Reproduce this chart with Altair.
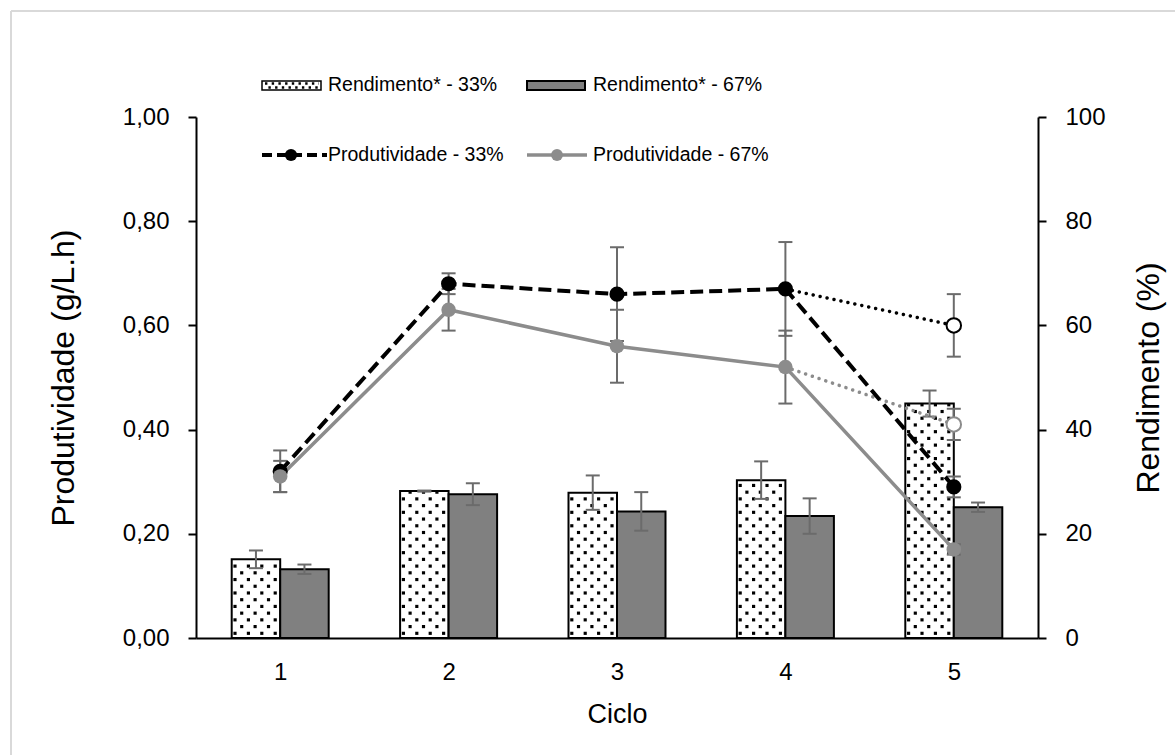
import altair as alt
import pandas as pd

# ---------------- data ----------------
ciclos = [1, 2, 3, 4, 5]

# Rendimento (%) por ciclo, com desvio padrão
rend_33 = [15.1, 28.2, 27.9, 30.3, 45.0]
rend_33_err = [1.7, 0.1, 3.3, 3.6, 2.5]
rend_67 = [13.2, 27.6, 24.3, 23.4, 25.1]
rend_67_err = [0.9, 2.1, 3.7, 3.4, 0.9]

# Produtividade (g/L.h) por ciclo, com desvio padrão
prod_33 = [0.32, 0.68, 0.66, 0.67, 0.29]
prod_33_err = [0.04, 0.02, 0.09, 0.09, 0.02]
prod_67 = [0.31, 0.63, 0.56, 0.52, 0.17]
prod_67_err = [0.03, 0.04, 0.07, 0.07, 0.01]

# Ciclo 5 alternativo (marcadores vazados, ligados ao ciclo 4 por pontilhado)
prod_33_c5b = 0.60
prod_33_c5b_err = 0.06
prod_67_c5b = 0.41
prod_67_c5b_err = 0.03

legend_labels = ["Rendimento* - 33%", "Rendimento* - 67%",
                 "Produtividade - 33%", "Produtividade - 67%"]

# ---------------- styling ----------------
FONT = "Liberation Sans, Arial"
GRAY_BAR = "#808080"
GRAY_LINE = "#8c8c8c"
ERR = "#6b6b6b"
BAR_W = 0.288  # bar width in cycle units

X = alt.Scale(domain=[0.5, 5.5], nice=False, zero=False)
YP = alt.Scale(domain=[0, 1], nice=False)
YR = alt.Scale(domain=[0, 100], nice=False)

# ---------------- tables ----------------
bars = pd.DataFrame({
    "ciclo": ciclos * 2,
    "grupo": ["33%"] * 5 + ["67%"] * 5,
    "rend": rend_33 + rend_67,
    "err": rend_33_err + rend_67_err,
})
bars["x0"] = bars["ciclo"] - BAR_W * (bars["grupo"] == "33%")
bars["x1"] = bars["x0"] + BAR_W
bars["xm"] = (bars["x0"] + bars["x1"]) / 2
bars["lo"] = bars["rend"] - bars["err"]
bars["hi"] = bars["rend"] + bars["err"]
bars["base"] = 0.0

prod = pd.DataFrame({
    "ciclo": ciclos * 2,
    "grupo": ["33%"] * 5 + ["67%"] * 5,
    "p": prod_33 + prod_67,
    "err": prod_33_err + prod_67_err,
})
prod_b = pd.DataFrame({
    "ciclo": [5, 5],
    "grupo": ["33%", "67%"],
    "p": [prod_33_c5b, prod_67_c5b],
    "err": [prod_33_c5b_err, prod_67_c5b_err],
})
errs_p = pd.concat([prod, prod_b], ignore_index=True)
errs_p["lo"] = errs_p["p"] - errs_p["err"]
errs_p["hi"] = errs_p["p"] + errs_p["err"]

dot33 = pd.DataFrame({"ciclo": [4, 5], "p": [prod_33[3], prod_33_c5b]})
dot67 = pd.DataFrame({"ciclo": [4, 5], "p": [prod_67[3], prod_67_c5b]})

# ---------------- axes (same object reused by every layer sharing a scale) ----
x_axis = alt.Axis(orient="bottom", values=ciclos, format="d", ticks=False,
                  tickSize=0, grid=False, domainColor="black", domainWidth=2,
                  labelFont=FONT, labelFontSize=24, labelColor="black",
                  labelPadding=22, title="Ciclo", titleFont=FONT,
                  titleFontSize=27, titleFontWeight="normal", titleColor="black",
                  titlePadding=17)

yp_axis = alt.Axis(orient="left", values=[0, 0.2, 0.4, 0.6, 0.8, 1.0],
                   labelExpr="replace(format(datum.value, '.2f'), '.', ',')",
                   grid=False, tickSize=8, tickWidth=2, tickColor="black",
                   domainColor="black", domainWidth=2, labelFont=FONT,
                   labelFontSize=24, labelColor="black", labelPadding=19,
                   title="Produtividade (g/L.h)", titleFont=FONT,
                   titleFontSize=32, titleFontWeight="normal", titleColor="black",
                   titlePadding=42)

yr_axis = alt.Axis(orient="right", values=[0, 20, 40, 60, 80, 100], format="d",
                   grid=False, tickSize=8, tickWidth=2, tickColor="black",
                   domainColor="black", domainWidth=2, labelFont=FONT,
                   labelFontSize=24, labelColor="black", labelPadding=19,
                   title="Rendimento (%)", titleFont=FONT, titleFontSize=32,
                   titleFontWeight="normal", titleColor="black", titleAngle=270,
                   titleBaseline="top", titlePadding=28)


def xq(field):
    return alt.X(f"{field}:Q", scale=X, axis=x_axis)


def yr(field):
    return alt.Y(f"{field}:Q", scale=YR, axis=yr_axis)


def yp(field):
    return alt.Y(f"{field}:Q", scale=YP, axis=yp_axis)


# ---------------- Rendimento (bars, right axis) ----------------
bar_rects = alt.Chart(bars).mark_rect(stroke="black", strokeWidth=2).encode(
    x=xq("x0"), x2="x1:Q",
    y=yr("rend"), y2="base:Q",
    fill=alt.Fill("grupo:N", scale=alt.Scale(domain=["33%", "67%"],
                                              range=["white", GRAY_BAR]),
                  legend=None),
)

# dotted fill of the 33% bars: staggered grid of small squares inside each bar
bar_dots = alt.Chart(bars).transform_filter(
    "datum.grupo == '33%'"
).transform_calculate(
    ri="sequence(0, floor((datum.rend - 1.1) / 1.29) + 1)"
).transform_flatten(["ri"]).transform_calculate(
    ci="sequence(0, 7)"
).transform_flatten(["ci"]).transform_filter(
    "(datum.ri + datum.ci) % 2 == 0"
).transform_calculate(
    dx="datum.x0 + 0.0196 + datum.ci * 0.0398",
    dy="0.9 + datum.ri * 1.29",
).mark_square(size=10, color="black", opacity=1).encode(
    x=xq("dx"), y=yr("dy"),
)

bar_err = alt.Chart(bars).mark_rule(color=ERR, strokeWidth=2).encode(
    x=xq("xm"), y=yr("lo"), y2="hi:Q")
bar_cap_lo = alt.Chart(bars).mark_tick(orient="horizontal", size=14, thickness=2,
                                       color=ERR, opacity=1).encode(
    x=xq("xm"), y=yr("lo"))
bar_cap_hi = alt.Chart(bars).mark_tick(orient="horizontal", size=14, thickness=2,
                                       color=ERR, opacity=1).encode(
    x=xq("xm"), y=yr("hi"))

rend_group = alt.layer(bar_rects, bar_dots, bar_err, bar_cap_lo, bar_cap_hi)

# ---------------- Produtividade (lines, left axis) ----------------
p_err = alt.Chart(errs_p).mark_rule(color=ERR, strokeWidth=2).encode(
    x=xq("ciclo"), y=yp("lo"), y2="hi:Q")
p_cap_lo = alt.Chart(errs_p).mark_tick(orient="horizontal", size=14, thickness=2,
                                       color=ERR, opacity=1).encode(
    x=xq("ciclo"), y=yp("lo"))
p_cap_hi = alt.Chart(errs_p).mark_tick(orient="horizontal", size=14, thickness=2,
                                       color=ERR, opacity=1).encode(
    x=xq("ciclo"), y=yp("hi"))

line67 = alt.Chart(prod).transform_filter("datum.grupo == '67%'").mark_line(
    color=GRAY_LINE, strokeWidth=3.5).encode(x=xq("ciclo"), y=yp("p"))
line67_dot = alt.Chart(dot67).mark_line(
    color=GRAY_LINE, strokeWidth=3.5, strokeDash=[0.1, 7], strokeCap="round"
).encode(x=xq("ciclo"), y=yp("p"))
line33 = alt.Chart(prod).transform_filter("datum.grupo == '33%'").mark_line(
    color="black", strokeWidth=4, strokeDash=[13, 6]).encode(x=xq("ciclo"), y=yp("p"))
line33_dot = alt.Chart(dot33).mark_line(
    color="black", strokeWidth=3.5, strokeDash=[0.1, 7], strokeCap="round"
).encode(x=xq("ciclo"), y=yp("p"))

pts33 = alt.Chart(prod).transform_filter("datum.grupo == '33%'").mark_circle(
    color="black", size=230, opacity=1).encode(x=xq("ciclo"), y=yp("p"))
pts67 = alt.Chart(prod).transform_filter("datum.grupo == '67%'").mark_circle(
    color=GRAY_LINE, size=210, opacity=1).encode(x=xq("ciclo"), y=yp("p"))
open33 = alt.Chart(prod_b).transform_filter("datum.grupo == '33%'").mark_point(
    shape="circle", filled=True, fill="white", stroke="black", strokeWidth=2,
    size=210, opacity=1).encode(x=xq("ciclo"), y=yp("p"))
open67 = alt.Chart(prod_b).transform_filter("datum.grupo == '67%'").mark_point(
    shape="circle", filled=True, fill="white", stroke=GRAY_LINE, strokeWidth=2,
    size=210, opacity=1).encode(x=xq("ciclo"), y=yp("p"))

prod_group = alt.layer(p_err, p_cap_lo, p_cap_hi, line67, line67_dot,
                       line33, line33_dot, pts33, pts67, open33, open67)

# ---------------- legend and chart frame (pixel positions) ----------------
one = pd.DataFrame({"k": [0]})

frame_top = alt.Chart(one).mark_rule(color="#d9d9d9", strokeWidth=2).encode(
    x=alt.value(-185), x2=alt.value(1000), y=alt.value(-106))
frame_left = alt.Chart(one).mark_rule(color="#d9d9d9", strokeWidth=2).encode(
    x=alt.value(-185), y=alt.value(-106), y2=alt.value(700))

leg_r33 = alt.Chart(one).mark_rect(fill="white", stroke="black", strokeWidth=1.5).encode(
    x=alt.value(66), x2=alt.value(125), y=alt.value(-36), y2=alt.value(-27))
leg_r33_d1 = alt.Chart(one).mark_rule(color="black", strokeWidth=2.4,
                                      strokeDash=[2.4, 4.3]).encode(
    x=alt.value(69), x2=alt.value(123), y=alt.value(-33.5))
leg_r33_d2 = alt.Chart(one).mark_rule(color="black", strokeWidth=2.4,
                                      strokeDash=[2.4, 4.3], strokeDashOffset=3.3).encode(
    x=alt.value(69), x2=alt.value(123), y=alt.value(-29.5))
leg_r67 = alt.Chart(one).mark_rect(fill=GRAY_BAR, stroke="black", strokeWidth=2).encode(
    x=alt.value(331), x2=alt.value(389), y=alt.value(-36), y2=alt.value(-27))

leg_l33 = alt.Chart(one).mark_rule(color="black", strokeWidth=4,
                                   strokeDash=[10, 5]).encode(
    x=alt.value(66), x2=alt.value(131), y=alt.value(38))
leg_p33 = alt.Chart(one).mark_circle(color="black", size=150, opacity=1).encode(
    x=alt.value(95), y=alt.value(38))
leg_l67 = alt.Chart(one).mark_rule(color=GRAY_LINE, strokeWidth=3.5).encode(
    x=alt.value(331), x2=alt.value(391), y=alt.value(38))
leg_p67 = alt.Chart(one).mark_circle(color=GRAY_LINE, size=140, opacity=1).encode(
    x=alt.value(361), y=alt.value(38))

leg_pos = [(132, -32), (397, -32), (132, 38), (397, 38)]
leg_texts = [
    alt.Chart(one).mark_text(
        text=lab, align="left", baseline="middle", font=FONT, fontSize=19.5,
        color="black"
    ).encode(x=alt.value(px), y=alt.value(py))
    for lab, (px, py) in zip(legend_labels, leg_pos)
]

legend = alt.layer(leg_r33, leg_r33_d1, leg_r33_d2, leg_r67,
                   leg_l33, leg_l67, leg_p33, leg_p67, *leg_texts)

chart = alt.layer(
    frame_top, frame_left, rend_group, prod_group, legend
).resolve_scale(
    y="independent"
).properties(
    width=842, height=521,
    padding={"left": 196, "top": 117, "right": 137, "bottom": 117},
    autosize=alt.AutoSizeParams(type="none"),
    background="white",
).configure_view(stroke=None)

chart.save("out.html", embed_options={"renderer": "svg", "actions": False})
